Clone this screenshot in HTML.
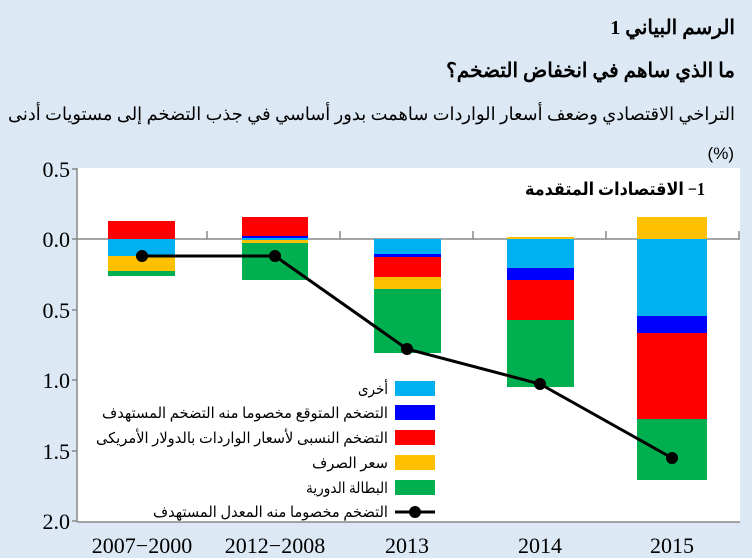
<!DOCTYPE html>
<html><head><meta charset="utf-8"><style>
html,body{margin:0;padding:0;background:#dce8f4;}
svg{display:block;}
</style></head><body>
<svg width="752" height="558" xmlns="http://www.w3.org/2000/svg">
<rect width="752" height="558" fill="#dce8f4"/>
<g font-family="'Liberation Serif','DejaVu Serif',serif" fill="#000" direction="rtl">
<text x="735" y="34" font-size="20" font-weight="bold" text-anchor="start">الرسم البياني 1</text>
<text x="735" y="77" font-size="20" font-weight="bold" text-anchor="start">ما الذي ساهم في انخفاض التضخم؟</text>
<text x="735" y="120" font-size="18" text-anchor="start" textLength="727" lengthAdjust="spacingAndGlyphs">التراخي الاقتصادي وضعف أسعار الواردات ساهمت بدور أساسي في جذب التضخم إلى مستويات أدنى</text>
</g>
<text x="734" y="159" font-family="'Liberation Sans',sans-serif" font-size="17" text-anchor="end">(%)</text>
<rect x="77" y="168" width="663" height="354" fill="#fff"/>
<g stroke="#888" stroke-width="1.5" fill="none">
<line x1="77" y1="168" x2="77" y2="522"/>
<line x1="77" y1="522" x2="740" y2="522"/>
<line x1="77" y1="239" x2="740" y2="239"/>
<line x1="72" y1="169" x2="77" y2="169"/>
<line x1="72" y1="239" x2="77" y2="239"/>
<line x1="72" y1="310" x2="77" y2="310"/>
<line x1="72" y1="380" x2="77" y2="380"/>
<line x1="72" y1="451" x2="77" y2="451"/>
<line x1="72" y1="521" x2="77" y2="521"/>
<line x1="207" y1="231" x2="207" y2="239"/>
<line x1="340" y1="231" x2="340" y2="239"/>
<line x1="473" y1="231" x2="473" y2="239"/>
<line x1="606" y1="231" x2="606" y2="239"/>
<line x1="739" y1="231" x2="739" y2="239"/>
</g>
<g font-family="'Liberation Serif',serif" font-size="22" text-anchor="end">
<text x="70" y="177">0.5</text>
<text x="70" y="247">0.0</text>
<text x="70" y="318">0.5</text>
<text x="70" y="388">1.0</text>
<text x="70" y="459">1.5</text>
<text x="70" y="529">2.0</text>
</g>
<g font-family="'Liberation Serif',serif" font-size="22" text-anchor="middle">
<text x="142" y="553">2007−2000</text>
<text x="275" y="553">2012−2008</text>
<text x="407" y="553">2013</text>
<text x="540" y="553">2014</text>
<text x="672" y="553">2015</text>
</g>
<text x="705" y="195" font-family="'Liberation Serif','DejaVu Sans',serif" font-size="18" font-weight="bold" direction="rtl" text-anchor="start" textLength="180" lengthAdjust="spacingAndGlyphs">1− الاقتصادات المتقدمة</text>
<g>
<rect x="108" y="221" width="67" height="18" fill="#ff0000"/>
<rect x="108" y="239" width="67" height="17" fill="#00b0f0"/>
<rect x="108" y="256" width="67" height="15" fill="#ffc000"/>
<rect x="108" y="271" width="67" height="5" fill="#00b050"/>

<rect x="242" y="217" width="66" height="19" fill="#ff0000"/>
<rect x="242" y="236" width="66" height="2" fill="#0000ff"/>
<rect x="242" y="238" width="66" height="2" fill="#00b0f0"/>
<rect x="242" y="240" width="66" height="3" fill="#ffc000"/>
<rect x="242" y="243" width="66" height="37" fill="#00b050"/>

<rect x="374" y="239" width="67" height="15" fill="#00b0f0"/>
<rect x="374" y="254" width="67" height="3" fill="#0000ff"/>
<rect x="374" y="257" width="67" height="20" fill="#ff0000"/>
<rect x="374" y="277" width="67" height="12" fill="#ffc000"/>
<rect x="374" y="289" width="67" height="64" fill="#00b050"/>

<rect x="507" y="237" width="67" height="2" fill="#ffc000"/>
<rect x="507" y="239" width="67" height="29" fill="#00b0f0"/>
<rect x="507" y="268" width="67" height="12" fill="#0000ff"/>
<rect x="507" y="280" width="67" height="40" fill="#ff0000"/>
<rect x="507" y="320" width="67" height="67" fill="#00b050"/>

<rect x="637" y="217" width="70" height="22" fill="#ffc000"/>
<rect x="637" y="239" width="70" height="77" fill="#00b0f0"/>
<rect x="637" y="316" width="70" height="17" fill="#0000ff"/>
<rect x="637" y="333" width="70" height="86" fill="#ff0000"/>
<rect x="637" y="419" width="70" height="61" fill="#00b050"/>
</g>
<polyline points="142,256 275,256 407,349 540,384 672,458" fill="none" stroke="#000" stroke-width="3"/>
<g fill="#000">
<circle cx="142" cy="256" r="6"/><circle cx="275" cy="256" r="6"/><circle cx="407" cy="349" r="6"/><circle cx="540" cy="384" r="6"/><circle cx="672" cy="458" r="6"/>
</g>
<rect x="395" y="381" width="40" height="15" fill="#00b0f0"/>
<rect x="395" y="405" width="40" height="15" fill="#0000ff"/>
<rect x="395" y="430" width="40" height="15" fill="#ff0000"/>
<rect x="395" y="455" width="40" height="15" fill="#ffc000"/>
<rect x="395" y="480" width="40" height="15" fill="#00b050"/>
<line x1="395" y1="512" x2="435" y2="512" stroke="#000" stroke-width="3"/>
<circle cx="415" cy="512" r="6" fill="#000"/>
<g font-family="'Liberation Serif','DejaVu Sans',serif" font-size="15" direction="rtl" text-anchor="start" lengthAdjust="spacingAndGlyphs">
<text x="388" y="394" textLength="30" lengthAdjust="spacingAndGlyphs">أخرى</text>
<text x="388" y="418" textLength="286" lengthAdjust="spacingAndGlyphs">التضخم المتوقع مخصوما منه التضخم المستهدف</text>
<text x="388" y="443" textLength="292" lengthAdjust="spacingAndGlyphs">التضخم النسبى لأسعار الواردات بالدولار الأمريكى</text>
<text x="388" y="468" textLength="76" lengthAdjust="spacingAndGlyphs">سعر الصرف</text>
<text x="388" y="493" textLength="82" lengthAdjust="spacingAndGlyphs">البطالة الدورية</text>
<text x="388" y="517" textLength="235" lengthAdjust="spacingAndGlyphs">التضخم مخصوما منه المعدل المستهدف</text>
</g>
</svg>
</body></html>
